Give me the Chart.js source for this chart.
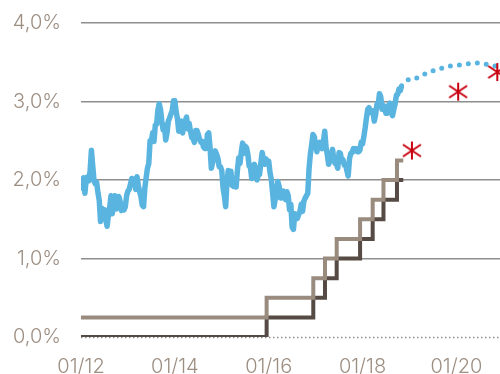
<!DOCTYPE html>
<html>
<head>
<meta charset="utf-8">
<script src="https://cdn.jsdelivr.net/npm/chart.js@4/dist/chart.umd.min.js"></script>
<style>
  html, body { margin: 0; padding: 0; background: #fff; }
  #chart { display: block; }
</style>
</head>
<body>
<canvas id="chart" width="500" height="374"></canvas>
<script>
// 10y yield, one value every ~10 days (1st, 11th, 21st of each month)
const yieldStart = 2012;
const yields2012 = [1.97, 1.90, 2.03, 1.83, 2.01, 2.04, 1.99, 2.12, 2.38, 2.18, 1.99, 1.95, 1.97, 1.84, 1.74, 1.47, 1.64, 1.62, 1.62, 1.50, 1.41, 1.55, 1.65, 1.80, 1.57, 1.70, 1.80, 1.63, 1.69, 1.79, 1.73, 1.61, 1.67, 1.62, 1.66, 1.80];
const yields2013 = [1.86, 1.88, 1.95, 2.02, 1.98, 2.01, 1.88, 2.04, 1.93, 1.85, 1.79, 1.68, 1.66, 1.90, 2.03, 2.15, 2.21, 2.50, 2.50, 2.60, 2.49, 2.70, 2.71, 2.89, 2.97, 2.90, 2.75, 2.64, 2.70, 2.51, 2.60, 2.75, 2.79, 2.84, 2.88, 3.01];
const yields2014 = [3.01, 2.87, 2.78, 2.62, 2.73, 2.75, 2.60, 2.73, 2.75, 2.80, 2.65, 2.72, 2.62, 2.54, 2.53, 2.48, 2.63, 2.63, 2.58, 2.52, 2.48, 2.49, 2.42, 2.40, 2.40, 2.58, 2.60, 2.42, 2.15, 2.22, 2.33, 2.37, 2.33, 2.28, 2.17, 2.17];
const yields2015 = [2.12, 1.90, 1.80, 1.66, 1.98, 2.12, 2.11, 2.11, 1.93, 1.92, 1.95, 1.91, 2.12, 2.28, 2.21, 2.36, 2.47, 2.34, 2.43, 2.41, 2.33, 2.18, 2.16, 2.02, 2.18, 2.20, 2.15, 2.00, 2.06, 2.07, 2.22, 2.35, 2.26, 2.20, 2.27, 2.22];
const yields2016 = [2.24, 2.10, 2.01, 1.84, 1.66, 1.75, 1.83, 1.98, 1.92, 1.77, 1.77, 1.86, 1.82, 1.75, 1.85, 1.80, 1.62, 1.69, 1.40, 1.37, 1.57, 1.55, 1.51, 1.56, 1.60, 1.69, 1.60, 1.73, 1.77, 1.80, 1.83, 2.15, 2.33, 2.45, 2.58, 2.55];
const yields2017 = [2.45, 2.36, 2.47, 2.48, 2.43, 2.40, 2.49, 2.62, 2.42, 2.32, 2.20, 2.25, 2.29, 2.39, 2.25, 2.21, 2.20, 2.15, 2.35, 2.34, 2.24, 2.26, 2.19, 2.20, 2.12, 2.05, 2.27, 2.34, 2.35, 2.40, 2.37, 2.40, 2.36, 2.36, 2.38, 2.48];
const yields2018 = [2.46, 2.55, 2.66, 2.79, 2.90, 2.92, 2.86, 2.86, 2.88, 2.75, 2.83, 2.96, 2.95, 3.10, 3.06, 2.90, 2.95, 2.90, 2.85, 2.85, 2.95, 2.98, 2.87, 2.82, 2.90, 2.97, 3.08, 3.09, 3.16, 3.14, 3.20];

// forward curve (dotted)
const forwardDates = ["2018-11-01", "2018-12-01", "2019-01-01", "2019-03-01", "2019-05-01", "2019-07-01", "2019-09-01", "2019-11-01", "2020-01-01", "2020-03-01", "2020-05-01", "2020-07-01", "2020-09-01", "2020-11-01", "2021-01-01"];
const forwardValues = [3.20, 3.23, 3.29, 3.30, 3.35, 3.39, 3.42, 3.45, 3.46, 3.47, 3.49, 3.49, 3.47, 3.45, 3.43];

// fed funds target range
const fedDates = ["2012-01-01", "2015-12-16", "2016-12-14", "2017-03-15", "2017-06-14", "2017-12-13", "2018-03-21", "2018-06-13", "2018-09-26", "2018-11-14"];
const fedLower = [0, 0.25, 0.5, 0.75, 1.0, 1.25, 1.5, 1.75, 2.0, 2.0];
const fedUpper = [0.25, 0.5, 0.75, 1.0, 1.25, 1.5, 1.75, 2.0, 2.25, 2.25];

// projections (red stars)
const projDates = ["2019-01-20", "2020-01-15", "2020-11-15"];
const projValues = [2.375, 3.125, 3.375];

const xTicks = [2012, 2014, 2016, 2018, 2020];
const yTicks = [0, 1, 2, 3, 4];

function toYear(str) {
  const d = new Date(str + "T00:00:00Z");
  const y = d.getUTCFullYear();
  const start = Date.UTC(y, 0, 1);
  const end = Date.UTC(y + 1, 0, 1);
  return y + (d - start) / (end - start);
}

const yields = [].concat(yields2012, yields2013, yields2014, yields2015, yields2016, yields2017, yields2018);
const yieldPoints = yields.map((v, i) => ({ x: yieldStart + i / 36, y: v }));
const forwardPoints = forwardDates.map((d, i) => ({ x: toYear(d), y: forwardValues[i] }));
const lowerPoints = fedDates.map((d, i) => ({ x: toYear(d), y: fedLower[i] }));
const upperPoints = fedDates.map((d, i) => ({ x: toYear(d), y: fedUpper[i] }));
const projPoints = projDates.map((d, i) => ({ x: toYear(d), y: projValues[i] }));

// asterisk marker
const star = document.createElement("canvas");
star.width = 20;
star.height = 20;
{
  const c = star.getContext("2d");
  c.strokeStyle = "#c8000f";
  c.lineWidth = 2;
  c.beginPath();
  c.moveTo(10, 1); c.lineTo(10, 19);
  c.moveTo(1, 4); c.lineTo(19, 16);
  c.moveTo(1, 16); c.lineTo(19, 4);
  c.stroke();
}

// dotted line at 0 %
const zeroLine = {
  id: "zeroLine",
  beforeDatasetsDraw(chart) {
    const { ctx, chartArea, scales } = chart;
    const y = Math.round(scales.y.getPixelForValue(0)) + 0.5;
    ctx.save();
    ctx.strokeStyle = "#8c8c8c";
    ctx.lineWidth = 1.5;
    ctx.setLineDash([1.5, 2.5]);
    ctx.beginPath();
    ctx.moveTo(chartArea.left, y);
    ctx.lineTo(chartArea.right, y);
    ctx.stroke();
    ctx.restore();
  },
};

const font = { family: "Inter, 'Liberation Sans', sans-serif", size: 20, weight: 300 };
const labelColor = "#9d8e82";

new Chart(document.getElementById("chart"), {
  type: "line",
  data: {
    datasets: [
      {
        type: "scatter",
        data: projPoints,
        pointStyle: star,
        pointRadius: 10,
        showLine: false,
        clip: false,
      },
      {
        data: yieldPoints,
        borderColor: "#5ab4e0",
        borderWidth: 5.5,
        borderJoinStyle: "round",
        pointRadius: 0,
        tension: 0,
      },
      {
        data: forwardPoints,
        borderColor: "#5ab4e0",
        borderWidth: 5,
        borderDash: [0, 9],
        borderCapStyle: "round",
        pointRadius: 0,
        tension: 0.3,
      },
      {
        data: upperPoints,
        borderColor: "#9a8b7f",
        borderWidth: 4,
        stepped: true,
        pointRadius: 0,
      },
      {
        data: lowerPoints,
        borderColor: "#564a44",
        borderWidth: 4,
        stepped: true,
        pointRadius: 0,
      },
    ],
  },
  options: {
    responsive: false,
    animation: false,
    devicePixelRatio: 1,
    layout: { autoPadding: false, padding: { top: 23, left: 0, right: 0, bottom: 0 } },
    plugins: { legend: { display: false }, tooltip: { enabled: false } },
    scales: {
      x: {
        type: "linear",
        min: 2012,
        max: 2020.93,
        afterBuildTicks: (scale) => {
          scale.ticks = xTicks.map((v) => ({ value: v }));
        },
        afterFit: (scale) => {
          scale.height = 37;
          scale.paddingLeft = 0;
          scale.paddingRight = 0;
        },
        grid: { display: false },
        border: { display: false },
        ticks: {
          font,
          color: labelColor,
          padding: 10,
          maxRotation: 0,
          autoSkip: false,
          callback: (v) => "01/" + String(v).slice(2),
        },
      },
      y: {
        min: 0,
        max: 4,
        afterBuildTicks: (scale) => {
          scale.ticks = yTicks.map((v) => ({ value: v }));
        },
        afterFit: (scale) => {
          scale.width = 81;
          scale.paddingTop = 0;
          scale.paddingBottom = 0;
        },
        border: { display: false },
        grid: {
          drawTicks: false,
          lineWidth: 1.5,
          color: (c) => (c.tick && c.tick.value === 0 ? "rgba(0,0,0,0)" : "#8e8e8e"),
        },
        ticks: {
          font,
          color: labelColor,
          padding: 20,
          callback: (v) => v.toFixed(1).replace(".", ",") + "%",
        },
      },
    },
  },
  plugins: [zeroLine],
});
</script>
</body>
</html>
